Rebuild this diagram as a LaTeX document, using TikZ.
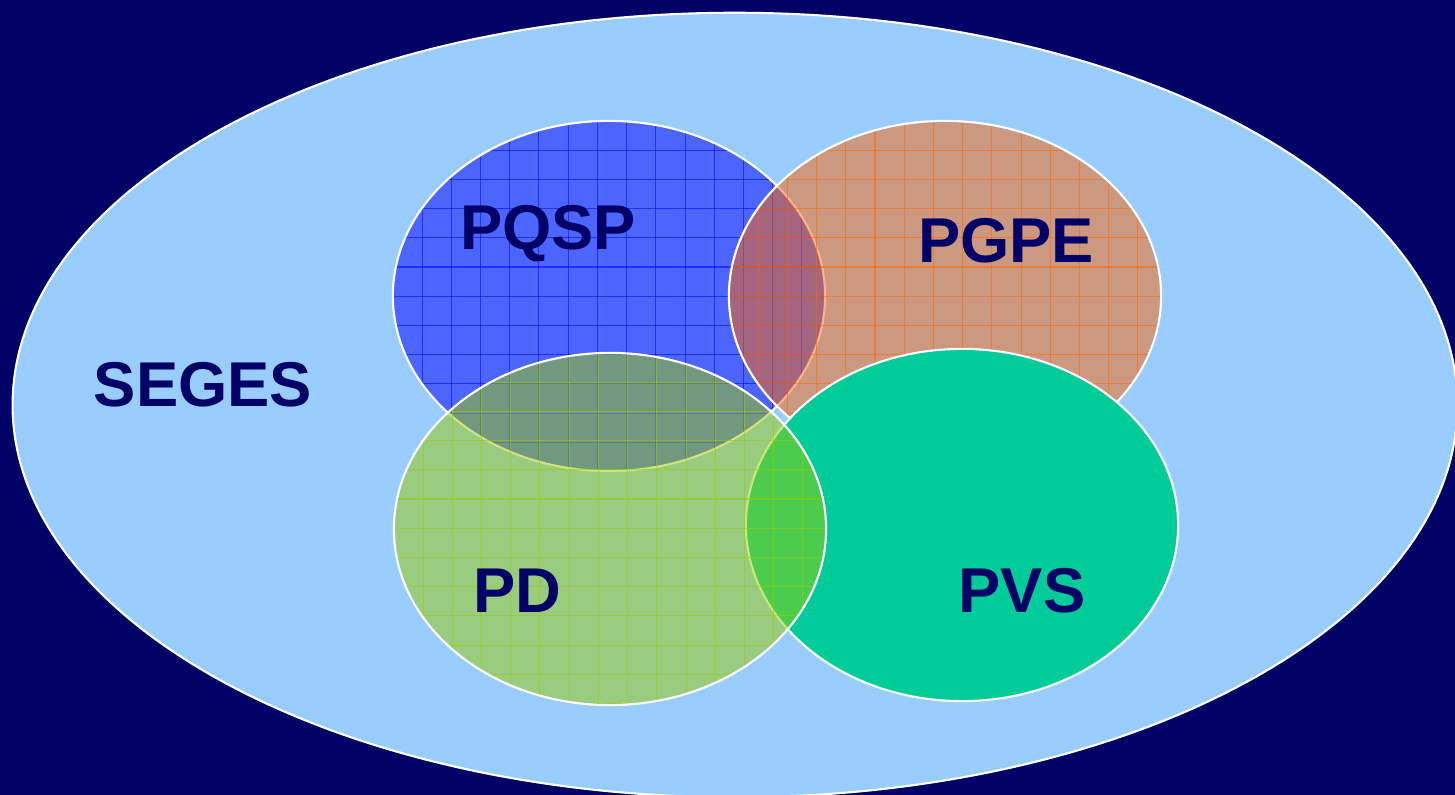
\documentclass[tikz,border=0pt]{standalone}
\usepackage{fontspec}
\setmainfont{Liberation Sans}
\usetikzlibrary{shapes.geometric}
\definecolor{navy}{HTML}{000066}
\definecolor{skyblue}{HTML}{99CCFF}
\definecolor{qspblue}{HTML}{0000FF}
\definecolor{gpeorange}{HTML}{FF6600}
\definecolor{pdgreen}{HTML}{99CC00}
\definecolor{vsteal}{HTML}{00CC99}
\begin{document}
\begin{tikzpicture}[x=0.01cm, y=-0.01cm,
    blob/.style = {draw=white, line width=0.6pt, ellipse, inner sep=0pt, outer sep=0pt,
                   minimum width=4.32cm, minimum height=3.5cm},
    gridded/.style = {blob, fill=#1, fill opacity=0.5,
        path picture={
            \foreach \k in {1,...,14}
                \draw[#1, line width=0.3pt, draw opacity=0.55]
                    ([xshift=\k*2.92mm]path picture bounding box.north west) --
                    ([xshift=\k*2.92mm]path picture bounding box.south west);
            \foreach \k in {1,...,12}
                \draw[#1, line width=0.3pt, draw opacity=0.55]
                    ([yshift=-\k*2.92mm]path picture bounding box.north west) --
                    ([yshift=-\k*2.92mm]path picture bounding box.north east);
        }},
    lbl/.style = {text=navy, anchor=base, inner sep=0pt, font=\bfseries\fontsize{18}{20}\selectfont}]
    \useasboundingbox (0,0) rectangle (1455,795);
    \fill[navy] (0,0) rectangle (1455,795);

    \node[blob, fill=skyblue, minimum width=14.44cm, minimum height=7.84cm] (seges) at (735,405) {};

    \node[gridded=qspblue] (pqsp) at (609,296) {};
    \node[gridded=gpeorange] (pgpe) at (945,296) {};
    \node[blob, fill=vsteal, minimum height=3.52cm] (pvs) at (962,525) {};
    \node[gridded=pdgreen, minimum height=3.52cm] (pd) at (610,529) {};

    \node[lbl] (seges label) at (203,407) {SEGES};
    \node[lbl] (pqsp label) at (548,250) {PQSP};
    \node[lbl] (pgpe label) at (1006,263) {PGPE};
    \node[lbl] (pd label) at (517,613) {PD};
    \node[lbl] (pvs label) at (1022,613) {PVS};
\end{tikzpicture}
\end{document}
